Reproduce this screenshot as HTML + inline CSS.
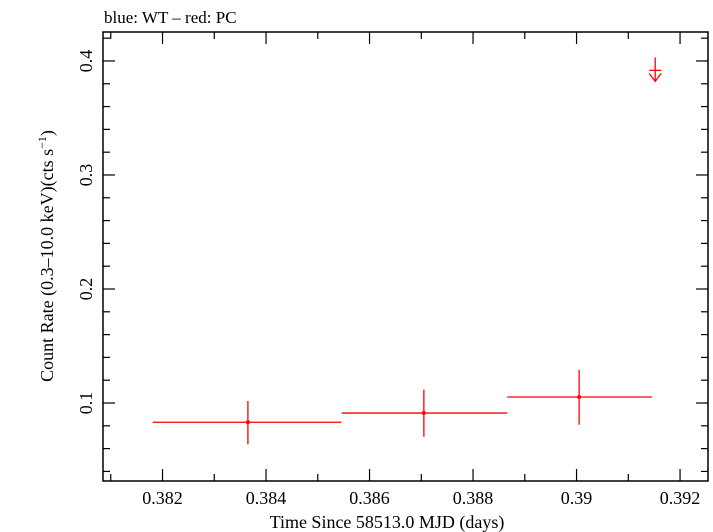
<!DOCTYPE html>
<html><head><meta charset="utf-8"><style>
body{margin:0;background:#fff}
svg{display:block;font-family:"Liberation Serif",serif}
</style></head><body>
<svg id="chart" width="713" height="532" xmlns="http://www.w3.org/2000/svg">
<text x="104" y="23" font-size="17">blue: WT – red: PC</text>
<rect x="103" y="32" width="605" height="449" fill="none" stroke="#000" stroke-width="1.5"/>
<g id="ticks"></g>
<g id="marks"></g>
<text x="387" y="528" font-size="18" text-anchor="middle">Time Since 58513.0 MJD (days)</text>
<text transform="translate(53,256) rotate(-90)" font-size="18" text-anchor="middle">Count Rate (0.3–10.0 keV)(cts s<tspan baseline-shift="super" font-size="12">−1</tspan>)</text>
</svg>
<script>
const times=[0.38365,0.38705,0.39005];
const rates=[0.0831,0.0912,0.1053];
const tLo=[0.38181,0.38546,0.38866];
const tHi=[0.38546,0.38866,0.39146];
const rLo=[0.0638,0.0704,0.081];
const rHi=[0.1018,0.1117,0.129];
const ulTimes=[0.39152];
const ulRates=[0.39];
const xTickLabels=["0.382","0.384","0.386","0.388","0.39","0.392"];
const yTickLabels=["0.1","0.2","0.3","0.4"];

const L=103,R=708,T=32,B=481,X0=0.38085,X1=0.39254,Y0=0.0316,Y1=0.4254;
const xs=v=>L+(v-X0)/(X1-X0)*(R-L);
const ys=v=>B-(v-Y0)/(Y1-Y0)*(B-T);
const NS="http://www.w3.org/2000/svg";
function mk(tag,attrs,parent){const e=document.createElementNS(NS,tag);for(const k in attrs)e.setAttribute(k,attrs[k]);parent.appendChild(e);return e;}
const tg=document.getElementById('ticks'),mg=document.getElementById('marks');
// x ticks
for(let i=0;i<=11;i++){const v=0.381+i*0.001;if(v>X1)break;const x=xs(v);const len=(i%2==1)?12:7;
 const a=mk('line',{x1:x,x2:x,y1:B,y2:B-len,stroke:'#000','stroke-width':1.2},tg);
 
 const b=mk('line',{x1:x,x2:x,y1:T,y2:T+len,stroke:'#000','stroke-width':1.2},tg);
 }
xTickLabels.forEach(s=>{const t=mk('text',{x:xs(parseFloat(s)),y:504,'font-size':18,'text-anchor':'middle'},tg);t.textContent=s;
 });
// y ticks
for(let i=2;i<=21;i++){const v=i*0.02;if(v>Y1)break;if(v<Y0)continue;const y=ys(v);const len=(i%5==0)?12:7;
 const a=mk('line',{x1:L,x2:L+len,y1:y,y2:y,stroke:'#000','stroke-width':1.2},tg);
 
 const b=mk('line',{x1:R,x2:R-len,y1:y,y2:y,stroke:'#000','stroke-width':1.2},tg);
 }
yTickLabels.forEach(s=>{const y=ys(parseFloat(s));const t=mk('text',{transform:`translate(92,${y}) rotate(-90)`,'font-size':18,'text-anchor':'middle'},tg);t.textContent=s;
 });
// data points
times.forEach((t,i)=>{
 const h=mk('line',{x1:xs(tLo[i]),x2:xs(tHi[i]),y1:ys(rates[i]),y2:ys(rates[i]),stroke:'#f00','stroke-width':1.3},mg);
 
 const v=mk('line',{x1:xs(t),x2:xs(t),y1:ys(rLo[i]),y2:ys(rHi[i]),stroke:'#f00','stroke-width':1.3},mg);
 
 const c=mk('circle',{cx:xs(t),cy:ys(rates[i]),r:2,fill:'#f00'},mg);
 
});
ulTimes.forEach((t,i)=>{const x=xs(t),y=ys(ulRates[i]);
 const g=mk('g',{stroke:'#f00','stroke-width':1.3,fill:'none'},mg);
 
 mk('line',{x1:x,x2:x,y1:y-15,y2:y+9},g);
 mk('line',{x1:x-6,x2:x+6,y1:y-2,y2:y-2},g);
 mk('polyline',{points:`${x-6},${y+1} ${x},${y+9} ${x+6},${y+1}`},g);
});
</script>
</body></html>
